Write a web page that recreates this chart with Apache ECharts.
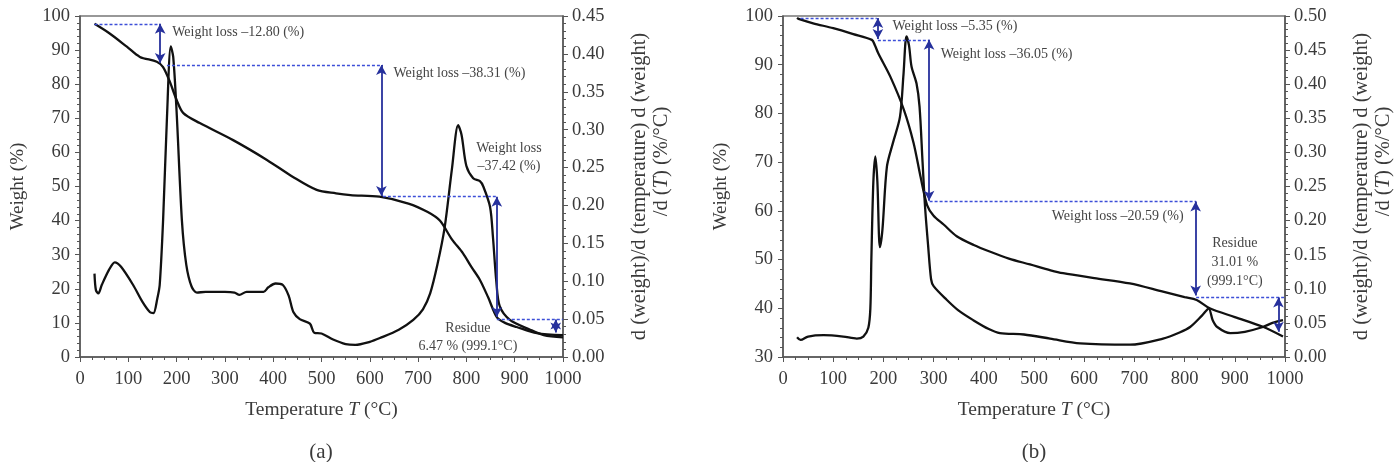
<!DOCTYPE html>
<html>
<head>
<meta charset="utf-8">
<script src="https://cdn.jsdelivr.net/npm/echarts@6/dist/echarts.min.js"></script>
<style>
html, body { margin: 0; background: #fff; }
#chart { width: 1397px; height: 462px; }
</style>
</head>
<body>
<div id="chart"></div>
<script>
// (a) TG curve: [temperature °C, weight %]
const tgA = [[30,97.7],[60,95],[97,91],[124,88],[159,86.6],[172,85],[186,80.7],[200,75.4],[214,71.5],[248,68.6],[317,63.6],[387,57.8],[441,52.8],[490,49],[530,48],[560,47.5],[620,47],[680,45],[720,42.5],[745,40],[770,34.5],[793,30.4],[810,26.5],[828,22.6],[845,17.5],[863,11.7],[880,10],[904,8.8],[946,7],[1000,6.4]]
// (a) DTG curve: [temperature °C, %/°C]
const dtgA = [[30,0.110],[33,0.088],[38,0.084],[45,0.095],[60,0.115],[72,0.125],[85,0.119],[110,0.095],[130,0.072],[145,0.059],[152,0.058],[160,0.077],[165,0.095],[172,0.180],[180,0.315],[188,0.410],[193,0.396],[200,0.324],[211,0.180],[220,0.122],[231,0.093],[242,0.085],[260,0.086],[300,0.086],[320,0.085],[330,0.082],[345,0.086],[380,0.086],[390,0.092],[405,0.097],[420,0.095],[432,0.081],[442,0.059],[455,0.050],[476,0.044],[485,0.032],[500,0.031],[524,0.023],[550,0.017],[570,0.016],[600,0.020],[621,0.025],[660,0.036],[690,0.049],[710,0.063],[725,0.084],[740,0.122],[755,0.171],[770,0.248],[783,0.306],[790,0.293],[800,0.252],[814,0.236],[828,0.232],[835,0.225],[849,0.198],[855,0.158],[862,0.099],[869,0.067],[890,0.049],[932,0.036],[960,0.029],[1000,0.026]]
// (b) TG curve
const tgB = [[28,99.6],[31,99.4],[60,98.5],[100,97.5],[140,96.3],[177,95.1],[183,94],[190,92.3],[214,87.5],[241,80.7],[260,74],[274,67],[287,61.2],[300,59],[320,57.2],[346,54.8],[380,53],[413,51.6],[450,50.2],[492,49],[533,47.8],[558,47.2],[620,46.2],[691,45.1],[757,43.4],[800,42.3],[824,41.7],[850,40],[900,38.2],[956,36.2],[996,34.2]]
// (b) DTG curve
const dtgB = [[28,0.029],[35,0.025],[50,0.030],[81,0.032],[120,0.030],[147,0.027],[160,0.030],[170,0.043],[174,0.071],[176,0.143],[180,0.257],[184,0.294],[188,0.257],[193,0.161],[198,0.186],[207,0.279],[219,0.314],[233,0.352],[240,0.414],[246,0.470],[251,0.457],[256,0.426],[266,0.401],[272,0.367],[278,0.286],[283,0.220],[289,0.164],[295,0.114],[300,0.104],[326,0.084],[350,0.068],[379,0.054],[410,0.041],[432,0.035],[480,0.033],[532,0.027],[592,0.020],[691,0.018],[757,0.027],[790,0.036],[811,0.044],[835,0.061],[848,0.071],[856,0.054],[865,0.044],[891,0.035],[920,0.037],[956,0.044],[975,0.050],[996,0.054]]

// guide lines, in weight-axis units: [x1, y1, x2, y2]
const dashA = [[30,97.7,166,97.7],[180,85.6,627,85.6],[627,47,863,47],[863,11.1,1000,11.1]]
const arrowA = [[166,97.7,166,86.2],[624,85.6,624,47.2],[863,47,863,11.7],[985,11,985,7.2]]
const dashB = [[35,99.5,187,99.5],[189,95.1,292,95.1],[292,61.9,823,61.9],[823,42.2,1000,42.2]]
const arrowB = [[189,99.6,189,95.3],[291,95.1,291,62.1],[822,61.9,822,42.6],[987,42.2,987,35.2]]

// notes: [x, y, text, side]
const notesA = [
  [190,95.3,'Weight loss \u201312.80 (%)','right'],
  [648,83.3,'Weight loss \u201338.31 (%)','right'],
  [888,61.3,'Weight loss','inside'],
  [888,56,'\u201337.42 (%)','inside'],
  [803,8.5,'Residue','inside'],
  [803,3.2,'6.47 % (999.1\u00b0C)','inside']
]
const notesB = [
  [217,97.9,'Weight loss \u20135.35 (%)','right'],
  [313,92.2,'Weight loss \u201336.05 (%)','right'],
  [799,58.9,'Weight loss \u201320.59 (%)','left'],
  [900,53.4,'Residue','inside'],
  [900,49.5,'31.01 %','inside'],
  [900,45.6,'(999.1\u00b0C)','inside']
]

const font = 'Liberation Serif'
const ink = '#111'
const txt = '#3a3a3a'
const axisCol = '#555'

function xAxis(gi) {
  return {
    gridIndex: gi, type: 'value', min: 0, max: 1000, interval: 100,
    name: '{n|Temperature }{i|T}{n| (\u00b0C)}',
    nameLocation: 'middle', nameGap: 43,
    nameTextStyle: { rich: {
      n: { fontFamily: font, fontSize: 19.5, color: txt },
      i: { fontFamily: font, fontSize: 19.5, color: txt, fontStyle: 'italic' }
    } },
    axisLine: { lineStyle: { color: axisCol, width: 1.5 } },
    axisTick: { length: 5, lineStyle: { color: axisCol } },
    minorTick: { show: true, splitNumber: 4, length: 3, lineStyle: { color: axisCol } },
    splitLine: { show: false },
    axisLabel: { fontFamily: font, fontSize: 18.5, color: txt, margin: 13, formatter: v => String(v) }
  }
}

function weightAxis(gi, min) {
  return {
    gridIndex: gi, type: 'value', position: 'left', min: min, max: 100, interval: 10,
    name: 'Weight (%)', nameLocation: 'middle', nameGap: 52, nameRotate: 90,
    nameTextStyle: { fontFamily: font, fontSize: 19, color: txt },
    axisLine: { show: true, lineStyle: { color: axisCol, width: 1.5 } },
    axisTick: { length: 5, lineStyle: { color: axisCol } },
    minorTick: { show: true, splitNumber: 5, length: 3, lineStyle: { color: axisCol } },
    splitLine: { show: false },
    axisLabel: { fontFamily: font, fontSize: 18.5, color: txt, margin: 10 }
  }
}

function rateAxis(gi, max) {
  return {
    gridIndex: gi, type: 'value', position: 'right', min: 0, max: max, interval: 0.05,
    name: '{n|d (weight)/d (temperature) d (weight)}\n{s|}{n|/d (}{i|T}{n|) (%/\u00b0C)}',
    nameLocation: 'middle', nameGap: 66, nameRotate: 90,
    nameTextStyle: { rich: {
      n: { fontFamily: font, fontSize: 20.5, color: txt, lineHeight: 22 },
      i: { fontFamily: font, fontSize: 20.5, color: txt, fontStyle: 'italic', lineHeight: 22 },
      s: { width: 50, lineHeight: 22 }
    } },
    axisLine: { show: true, lineStyle: { color: axisCol, width: 1.5 } },
    axisTick: { length: 5, lineStyle: { color: axisCol } },
    minorTick: { show: true, splitNumber: 5, length: 3, lineStyle: { color: axisCol } },
    splitLine: { show: false },
    axisLabel: { fontFamily: font, fontSize: 18.5, color: txt, margin: 9, formatter: v => v.toFixed(2) }
  }
}

function curve(data, xi, yi) {
  return {
    type: 'line', data: data, xAxisIndex: xi, yAxisIndex: yi,
    showSymbol: false, smooth: 0.3, silent: true,
    lineStyle: { color: ink, width: 2.3 }
  }
}

function guides(lines, xi, yi, arrows) {
  return {
    type: 'line', data: [], xAxisIndex: xi, yAxisIndex: yi, silent: true,
    markLine: {
      silent: true, animation: false,
      symbol: arrows ? ['arrow', 'arrow'] : ['none', 'none'],
      symbolSize: [8, 10],
      label: { show: false },
      lineStyle: arrows
        ? { color: '#26309c', width: 1.8, type: 'solid' }
        : { color: '#3d4fd8', width: 1.3, type: [3, 2] },
      data: lines.map(l => [{ coord: [l[0], l[1]] }, { coord: [l[2], l[3]] }])
    }
  }
}

function notes(list, xi, yi) {
  return {
    type: 'line', data: [], xAxisIndex: xi, yAxisIndex: yi, silent: true,
    markPoint: {
      silent: true, animation: false, symbol: 'circle', symbolSize: 1,
      itemStyle: { color: 'rgba(0,0,0,0)' },
      data: list.map(n => ({
        name: n[2], coord: [n[0], n[1]],
        label: { show: true, position: n[3], distance: 0, formatter: '{b}',
          fontFamily: font, fontSize: 14, color: '#444' }
      }))
    }
  }
}

const chart = echarts.init(document.getElementById('chart'))
chart.setOption({
  animation: false,
  backgroundColor: '#fff',
  grid: [
    { left: 80, top: 16, width: 483, height: 341, outerBoundsMode: 'none', containLabel: false,
      show: true, borderColor: '#777', borderWidth: 1.5 },
    { left: 783, top: 16, width: 502, height: 341, outerBoundsMode: 'none', containLabel: false,
      show: true, borderColor: '#777', borderWidth: 1.5 }
  ],
  xAxis: [xAxis(0), xAxis(1)],
  yAxis: [weightAxis(0, 0), rateAxis(0, 0.45), weightAxis(1, 30), rateAxis(1, 0.5)],
  series: [
    curve(tgA, 0, 0),
    curve(dtgA, 0, 1),
    curve(tgB, 1, 2),
    curve(dtgB, 1, 3),
    guides(dashA, 0, 0, false),
    guides(arrowA, 0, 0, true),
    guides(dashB, 1, 2, false),
    guides(arrowB, 1, 2, true),
    notes(notesA, 0, 0),
    notes(notesB, 1, 2)
  ],
  graphic: [
    { type: 'text', x: 321, y: 452, style: { text: '(a)', textAlign: 'center', textVerticalAlign: 'middle', font: '21px "Liberation Serif"', fill: txt } },
    { type: 'text', x: 1034, y: 452, style: { text: '(b)', textAlign: 'center', textVerticalAlign: 'middle', font: '21px "Liberation Serif"', fill: txt } }
  ]
})
</script>
</body>
</html>
